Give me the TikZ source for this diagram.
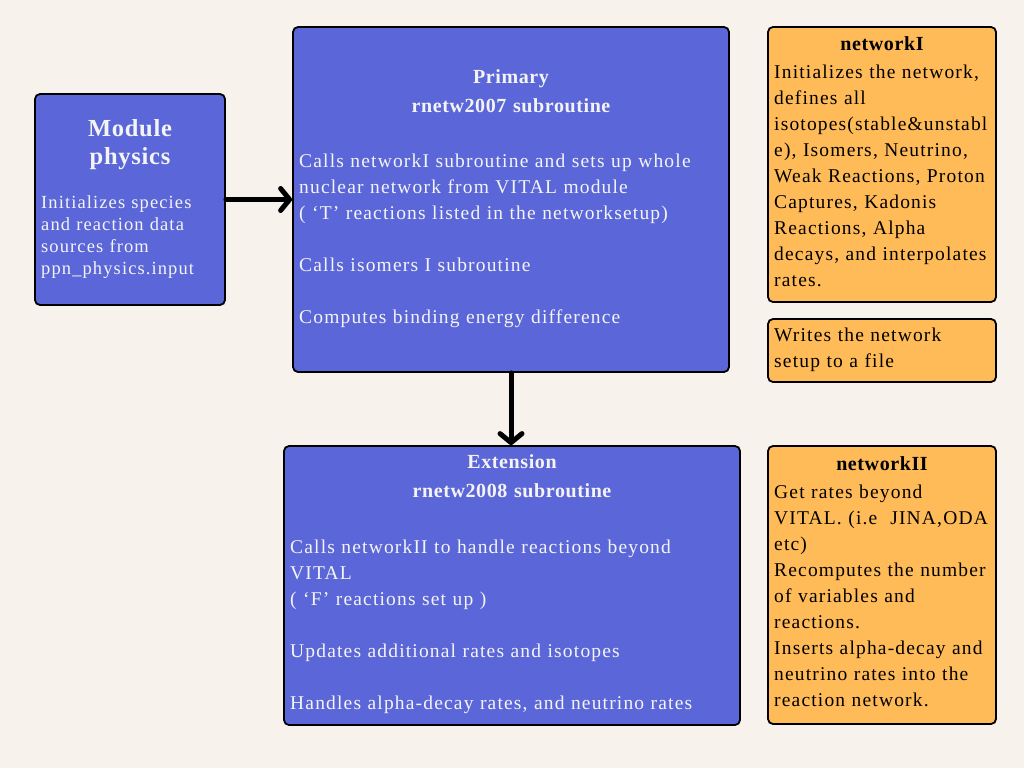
\documentclass[tikz,border=0pt]{standalone}
\usepackage{fontspec}
\setmainfont[LetterSpace=6]{Liberation Serif}
\newfontfamily\ttlfont[LetterSpace=3]{Liberation Serif}
\usetikzlibrary{arrows.meta}
\definecolor{bgc}{HTML}{F7F3EC}
\definecolor{bluec}{HTML}{5B67D8}
\definecolor{orangec}{HTML}{FFBB57}
\definecolor{txtw}{HTML}{F4F4F4}
\begin{document}
\begin{tikzpicture}[x=1pt,y=-1pt,
  box/.style={draw=black, line width=1.8pt, rounded corners=5pt, inner sep=0pt},
  bluebox/.style={box, fill=bluec},
  orangebox/.style={box, fill=orangec},
  bodytxt/.style={anchor=base west, inner sep=0pt, align=left, font=\fontsize{19.5}{26}\selectfont},
  wtxt/.style={bodytxt, text=txtw},
  ktxt/.style={bodytxt, text=black},
  ttl/.style={anchor=base, inner sep=0pt, align=center, font=\ttlfont\fontsize{20}{29}\selectfont\bfseries},
  conn/.style={line width=5pt, line cap=round, -{Straight Barb[length=9pt,width=22pt,line cap=round,line join=round]}}
]
\fill[bgc] (0,0) rectangle (1024,768);
\useasboundingbox (0,0) rectangle (1024,768);

% boxes
\node[bluebox, minimum width=190, minimum height=211] (mod) at (130,199.5) {};
\node[bluebox, minimum width=436, minimum height=345] (prim) at (511,199.5) {};
\node[bluebox, minimum width=456, minimum height=279] (ext) at (512,585.5) {};
\node[orangebox, minimum width=228, minimum height=275] (netI) at (882,164.5) {};
\node[orangebox, minimum width=228, minimum height=63] (wr) at (882,350.5) {};
\node[orangebox, minimum width=228, minimum height=278] (netII) at (882,585) {};

% texts
\node[ttl, text=txtw, text width=180, font=\ttlfont\fontsize{24.5}{28}\selectfont\bfseries] (modt) at (130,136) {Module\\physics};
\node[wtxt, text width=185, font=\fontsize{18.5}{22}\selectfont] (modb) at (41,208) {Initializes species\\and reaction data\\sources from\\ppn\_physics.input};

\node[ttl, text=txtw, text width=400] (primt) at (511,83) {Primary\\rnetw2007 subroutine};
\node[wtxt, text width=425] (primb) at (299,167) {Calls networkI subroutine and sets up whole\\nuclear network from VITAL module\\( ‘T’ reactions listed in the networksetup)\\[26pt]Calls isomers I subroutine\\[26pt]Computes binding energy difference};

\node[ttl, text=txtw, text width=400] (extt) at (512,468) {Extension\\rnetw2008 subroutine};
\node[wtxt, text width=445] (extb) at (290,553) {Calls networkII to handle reactions beyond\\VITAL\\( ‘F’ reactions set up )\\[26pt]Updates additional rates and isotopes\\[26pt]Handles alpha-decay rates, and neutrino rates};

\node[ttl, text=black, text width=220] (netIt) at (882,51) {networkI};
\node[ktxt, text width=222] (netIb) at (774,78) {Initializes the network,\\defines all\\isotopes(stable\&unstabl\\e), Isomers, Neutrino,\\Weak Reactions, Proton\\Captures, Kadonis\\Reactions, Alpha\\decays, and interpolates\\rates.};

\node[ktxt, text width=222] (wrb) at (774,341) {Writes the network\\setup to a file};

\node[ttl, text=black, text width=220] (netIIt) at (882,470) {networkII};
\node[ktxt, text width=222] (netIIb) at (774,498) {Get rates beyond\\VITAL. (i.e~ JINA,ODA\\etc)\\Recomputes the number\\of variables and\\reactions.\\Inserts alpha-decay and\\neutrino rates into the\\reaction network.};

% connectors
\draw[conn] (mod.east) -- (prim.west);
\draw[conn] (prim.south) -- (prim.south |- ext.north);
\end{tikzpicture}
\end{document}
